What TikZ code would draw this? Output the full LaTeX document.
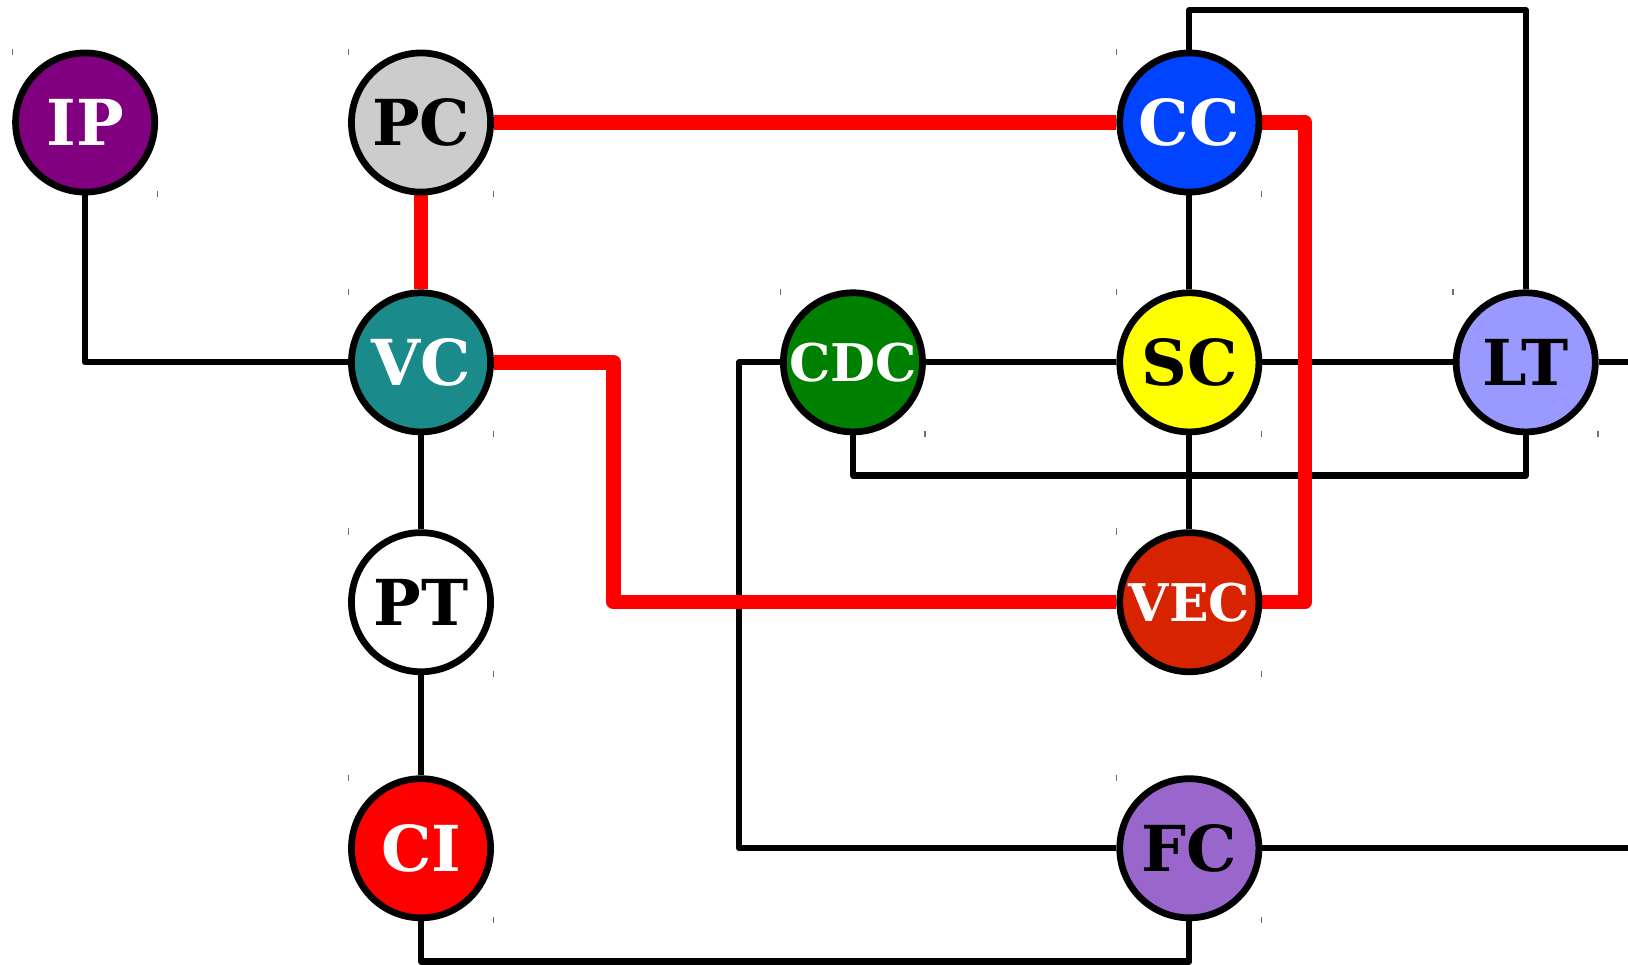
\documentclass[tikz,border=0pt]{standalone}
\usepackage{fontspec}
\setmainfont{DejaVu Serif}
\usetikzlibrary{calc}
\pgfdeclarelayer{bg}
\pgfsetlayers{bg,main}
\definecolor{cIP}{HTML}{800080}
\definecolor{cPC}{HTML}{CCCCCC}
\definecolor{cCC}{HTML}{0044FF}
\definecolor{cVC}{HTML}{1A8A8A}
\definecolor{cCDC}{HTML}{008000}
\definecolor{cSC}{HTML}{FFFF00}
\definecolor{cLT}{HTML}{9999FF}
\definecolor{cVEC}{HTML}{D82300}
\definecolor{cCI}{HTML}{FF0000}
\definecolor{cFC}{HTML}{9966CC}
\definecolor{tickgray}{HTML}{707070}
\tikzset{
  unit/.style={circle, draw=black, line width=6.5pt, minimum size=134pt, inner sep=0pt,
    font=\fontsize{61}{61}\selectfont\bfseries},
  smalltext/.style={font=\fontsize{50}{50}\selectfont\bfseries},
  blk/.style={draw=black, line width=6pt, line join=round},
  redl/.style={draw=red, line width=14pt, line join=round},
  tickmark/.style={draw=tickgray, line width=1.2pt}
}
\begin{document}
\begin{tikzpicture}[x=1pt,y=-1pt]
\useasboundingbox (0,0) rectangle (1568,929);
% nodes
\node[unit, fill=cIP, text=white] (IP) at (82,118) {IP};
\node[unit, fill=cPC, text=black] (PC) at (405.5,118) {PC};
\node[unit, fill=cCC, text=white] (CC) at (1145.5,118) {CC};
\node[unit, fill=cVC, text=white] (VC) at (405.5,349) {VC};
\node[unit, smalltext, fill=cCDC, text=white] (CDC) at (821.5,349) {CDC};
\node[unit, fill=cSC, text=black] (SC) at (1145.5,349) {SC};
\node[unit, fill=cLT, text=black] (LT) at (1469.5,349) {LT};
\node[unit, fill=white, text=black] (PT) at (405.5,580) {PT};
\node[unit, smalltext, fill=cVEC, text=white] (VEC) at (1145.5,580) {VEC};
\node[unit, fill=cCI, text=white] (CI) at (405.5,817) {CI};
\node[unit, fill=cFC, text=black] (FC) at (1145.5,817) {FC};
% tick marks
\foreach \n in {IP,PC,CC,VC,CDC,SC,LT,PT,VEC,CI,FC}{
  \draw[tickmark] ($(\n.center)+(-70,-71)$) -- ++(0,6);
  \draw[tickmark] ($(\n.center)+(69.5,66)$) -- ++(0,6);
}
% waypoints
\coordinate (ccTop) at (1145.5,10);
\coordinate (ltTop) at (1469.5,10);
\coordinate (ciBot) at (405.5,926);
\coordinate (cdcLeft) at (712,349);
\coordinate (cdcBot) at (821.5,458);
\coordinate (rightA) at (1568,349);
\coordinate (rightB) at (1568,817);
\coordinate (redR) at (1257,349);
\coordinate (redL) at (591,465);
\begin{pgfonlayer}{bg}
\draw[blk] (IP.south) |- (VC.west);
\draw[blk] (CC.north) -- (ccTop) -- (ltTop) -- (LT.north);
\draw[blk] (CC.south) -- (SC.north);
\draw[blk] (VC.south) -- (PT.north);
\draw[blk] (PT.south) -- (CI.north);
\draw[blk] (CI.south) -- (ciBot) -| (FC.south);
\draw[blk] (CDC.west) -- (cdcLeft) |- (FC.west);
\draw[blk] (CDC.east) -- (SC.west);
\draw[blk] (SC.east) -- (LT.west);
\draw[blk] (LT.east) -- (rightA);
\draw[blk] (FC.east) -- (rightB);
\draw[blk] (CDC.south) -- (cdcBot) -| (LT.south);
\draw[blk] (SC.south) -- (VEC.north);
% red
\draw[redl] (PC.south) -- (VC.north);
\draw[redl] (PC.east) -- (CC.west);
\draw[redl] (CC.east) -| (redR) |- (VEC.east);
\draw[redl] (VC.east) -| (redL) |- (VEC.west);
\end{pgfonlayer}
\end{tikzpicture}
\end{document}
